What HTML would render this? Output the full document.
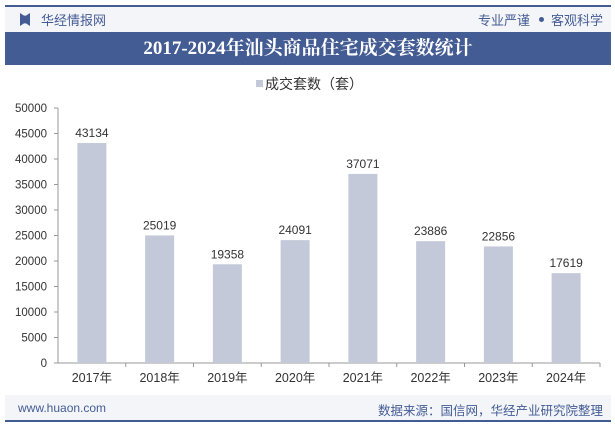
<!DOCTYPE html>
<html><head><meta charset="utf-8"><style>
body{margin:0;width:615px;height:427px;background:#fff;font-family:"Liberation Sans","Noto Sans CJK SC",sans-serif;overflow:hidden;position:relative}
.abs{position:absolute}
</style></head><body>
<div class="abs" style="left:5px;top:5px;width:606px;height:27px;background:#f3f5f9;border-top:2px solid #445c94;box-sizing:border-box"></div>
<div class="abs" style="left:20px;top:13px;width:10px;height:13px;background:#445c94;clip-path:polygon(0 0,40% 20%,60% 20%,100% 0,100% 100%,60% 80%,40% 80%,0 100%)"></div>
<div class="abs" style="left:41px;top:10px;font-size:13px;color:#445c94">华经情报网</div>
<div class="abs" style="left:478px;top:10px;font-size:13px;color:#445c94">专业严谨</div>
<div class="abs" style="left:539px;top:17px;width:5px;height:5px;border-radius:50%;background:#445c94"></div>
<div class="abs" style="left:551px;top:10px;font-size:13px;color:#445c94">客观科学</div>
<div class="abs" style="left:5px;top:32px;width:606px;height:33px;background:#445c94;color:#fff;font-family:'Liberation Serif','Noto Serif CJK SC',serif;font-weight:bold;font-size:19px;text-align:center;line-height:33px">2017-2024年汕头商品住宅成交套数统计</div>
<div class="abs" style="left:5px;top:395px;width:606px;height:27px;background:#f3f5f9;border-bottom:2px solid #445c94;box-sizing:border-box"></div>
<div class="abs" style="left:18px;top:401px;font-size:12px;color:#445c94">www.huaon.com</div>
<div class="abs" style="right:12px;top:400px;font-size:12.5px;color:#445c94">数据来源：国信网，华经产业研究院整理</div>
<svg class="abs" style="left:0;top:0" width="615" height="427">
<g id="legend">
<rect x="256" y="80" width="7" height="7" fill="#c3c9d8"/>
<text x="265" y="89" font-size="14" fill="#333">成交套数（套）</text>
</g>
<g id="g"></g>
</svg>
<script>
const categories=["2017年","2018年","2019年","2020年","2021年","2022年","2023年","2024年"];
const values=[43134,25019,19358,24091,37071,23886,22856,17619];
const yTicks=[0,5000,10000,15000,20000,25000,30000,35000,40000,45000,50000];
const NS="http://www.w3.org/2000/svg",g=document.getElementById('g');
const x0=58,x1=600,yb=363,yt=108,ymax=50000;
const bw=(x1-x0)/categories.length;
const y=v=>yb-(v/ymax)*(yb-yt);
function mk(t,a,txt){const e=document.createElementNS(NS,t);for(const k in a)e.setAttribute(k,a[k]);if(txt!=null)e.textContent=txt;g.appendChild(e);return e;}
yTicks.forEach(v=>{
const t=mk('text',{x:47,y:y(v)+4,'text-anchor':'end','font-size':11.5,fill:'#333'},v);


mk('line',{x1:54,x2:58,y1:y(v),y2:y(v),stroke:'#999'});
});
mk('line',{x1:58,x2:58,y1:yt,y2:yb,stroke:'#999'});
mk('line',{x1:x0,x2:x1,y1:yb,y2:yb,stroke:'#999'});
categories.forEach((c,i)=>{
const cx=x0+bw*(i+0.5);
const r=mk('rect',{x:cx-14.5,y:y(values[i]),width:29,height:yb-y(values[i]),fill:'#c3c9d8'});


const l=mk('text',{x:cx,y:y(values[i])-6,'text-anchor':'middle','font-size':12,fill:'#333'},values[i]);


const xl=mk('text',{x:cx,y:yb+19,'text-anchor':'middle','font-size':12.5,fill:'#333'},c);


mk('line',{x1:x0+bw*(i+1),x2:x0+bw*(i+1),y1:yb,y2:yb+4,stroke:'#999'});
});
</script>
</body></html>
